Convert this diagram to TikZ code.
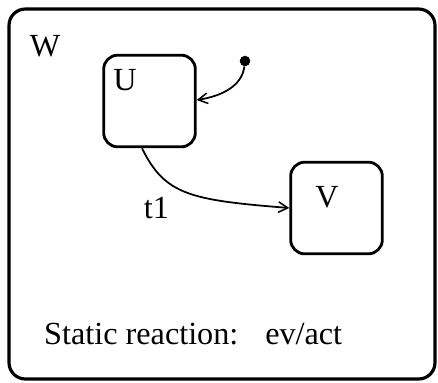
\documentclass[tikz,border=0pt]{standalone}
\usepackage{fontspec}
\setmainfont{Liberation Serif}
\usetikzlibrary{arrows.meta, positioning}
\tikzset{
  state/.style={rectangle, draw=black, rounded corners=12pt, line width=2.4pt,
    minimum width=2.75cm, minimum height=2.75cm, inner sep=0pt},
  lbl/.style={font=\fontsize{27.5}{30}\selectfont, inner sep=0pt},
  trans/.style={-{Straight Barb[length=8pt, width=9pt, line width=1.3pt]}, line width=1.5pt}
}
\begin{document}
\begin{tikzpicture}[x=0.03cm, y=-0.03cm]
  \useasboundingbox (0,0) rectangle (438,382);
  \draw[line width=2.7pt, rounded corners=14pt] (9,9) rectangle (435,379);
  \node[lbl] (W) at (45,46) {W};

  \node[state] (U) at (149.5,101) {};
  \node[state] (V) at (336.5,208) {};
  \node[lbl] (labU) at (125,80) {U};
  \node[lbl] (labV) at (327,197) {V};

  % default entry
  \node[circle, fill=black, minimum size=9pt, inner sep=0pt] (init) at (245,61) {};
  \draw[trans] (init) .. controls (242,86) and (222,96) .. (U.east |- 0,100);

  % t1
  \draw[trans] (U.south -| 142,0) .. controls (165,195) and (190,200) .. (V.west) node[lbl, pos=0.3, below left=14pt and -4pt] (t1) {t1};

  \node[lbl, anchor=base west] (sr) at (44,344) {Static reaction:\hspace{0.5em} ev/act};
\end{tikzpicture}
\end{document}
